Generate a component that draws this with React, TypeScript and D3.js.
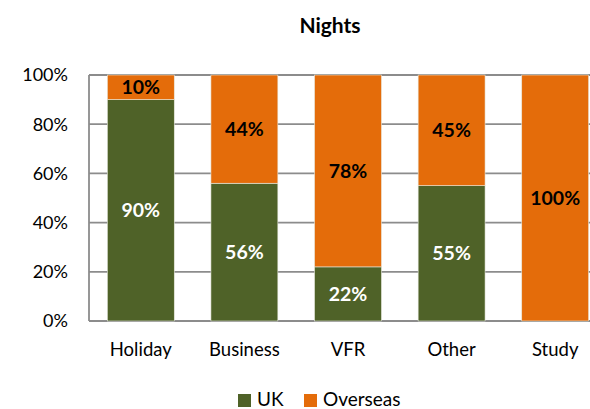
import React from "react";
import * as d3 from "d3";

const categories = ["Holiday", "Business", "VFR", "Other", "Study"];
const ukValues = [90, 56, 22, 55, 0];
const overseasValues = [10, 44, 78, 45, 100];
const yTicks = [0, 20, 40, 60, 80, 100];
const seriesNames = ["UK", "Overseas"];
const seriesColors = ["#4F6228", "#E46C0A"];

const W = 590;
const H = 409;
const FONT = "Lato, 'Open Sans', sans-serif";

export default function App() {
  const left = 89;
  const right = 607;
  const top = 75;
  const bottom = 321;
  const x = d3.scaleBand().domain(categories).range([left, right]).paddingInner(0.354).paddingOuter(0.177);
  const y = d3.scaleLinear().domain([0, 100]).range([bottom, top]);
  const stackData = categories.map((c, i) => ({ cat: c, UK: ukValues[i], Overseas: overseasValues[i] }));
  const stack = d3.stack<any>().keys(seriesNames)(stackData);

  return (
    <div style={{ position: "absolute", left: 0, top: 0 }}>
      <svg width={W} height={H} style={{ display: "block" }} fontFamily={FONT}>
        <rect width={W} height={H} fill="#fff" />
        <text x={330} y={33} textAnchor="middle" fontSize={21} fontWeight="bold" fill="#000">Nights</text>
        {yTicks.map((t) => (
          <g key={t}>
            <line x1={left} x2={right} y1={y(t)} y2={y(t)} stroke="#8c8c8c" strokeWidth={1.8} />
            <text x={68} y={y(t)} dy="0.36em" textAnchor="end" fontSize={18} fill="#000">{t}%</text>
          </g>
        ))}
        <line x1={left} x2={left} y1={top} y2={bottom} stroke="#8c8c8c" strokeWidth={1.8} />
        {stack.map((s, si) => (
          <g key={seriesNames[si]}>
            {s.map((d, i) => {
              const h = y(d[0]) - y(d[1]);
              if (h <= 0) return null;
              const cx = (x(categories[i]) as number) + x.bandwidth() / 2;
              const cy = (y(d[0]) + y(d[1])) / 2;
              const val = si === 0 ? ukValues[i] : overseasValues[i];
              return (
                <g key={i}>
                  <rect x={x(categories[i])} y={y(d[1])} width={x.bandwidth()} height={h} fill={seriesColors[si]} stroke="#e8eadf" strokeWidth={0.6} />
                  <text x={cx} y={cy} dy="0.36em" textAnchor="middle" fontSize={19.5} fontWeight="bold" fill={si === 0 ? "#fff" : "#000"}>{val}%</text>
                </g>
              );
            })}
          </g>
        ))}
        {categories.map((c) => (
          <text key={c} x={(x(c) as number) + x.bandwidth() / 2} y={356} textAnchor="middle" fontSize={18.5} fill="#000">{c}</text>
        ))}
        <g>
          <rect x={238} y={394} width={13} height={13} fill={seriesColors[0]} />
          <text x={257} y={406} fontSize={19} fill="#000">{seriesNames[0]}</text>
          <rect x={304} y={394} width={13} height={13} fill={seriesColors[1]} />
          <text x={323} y={406} fontSize={19} fill="#000">{seriesNames[1]}</text>
        </g>
      </svg>
    </div>
  );
}
